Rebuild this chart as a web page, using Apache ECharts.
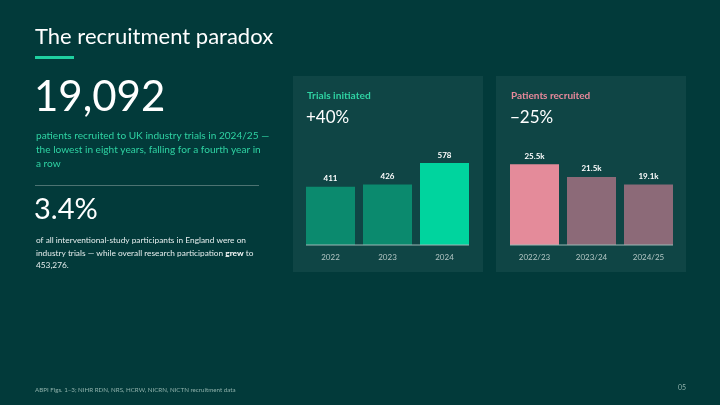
<!DOCTYPE html>
<html>
<head>
<meta charset="utf-8">
<script src="https://cdn.jsdelivr.net/npm/echarts@6/dist/echarts.min.js"></script>
<style>
html,body{margin:0;padding:0;background:#023a3a;}
#main{width:720px;height:405px;}
</style>
</head>
<body>
<div id="main"></div>
<script>
// data
var trialYears = ['2022', '2023', '2024'];
var trialsInitiated = [411, 426, 578];
var recruitYears = ['2022/23', '2023/24', '2024/25'];
var patientsRecruited = [25.5, 21.5, 19.1]; // thousands

var trialColors = ['#0b8a6e', '#0b8a6e', '#00d49e'];
var recruitColors = ['#e48b9a', '#8c6a78', '#8c6a78'];

var FONT = 'Lato, "Noto Sans", sans-serif';
var chart = echarts.init(document.getElementById('main'));

function txt(x, y, text, size, color, extra) {
	var s = {
		text: text,
		fill: color,
		font: (extra && extra.weight ? extra.weight + ' ' : '') + size + 'px ' + FONT,
		verticalAlign: 'middle',
		align: (extra && extra.align) || 'left'
	};
	if (extra && extra.rich) s.rich = extra.rich;
	return { type: 'text', x: x, y: y, style: s, z: 10 };
}

function barData(vals, colors) {
	return vals.map(function (v, i) {
		return { value: v, itemStyle: { color: colors[i] } };
	});
}

var axisCommon = {
	type: 'category',
	axisLine: { show: false },
	axisTick: { show: false },
	axisLabel: { color: '#b3c6c4', fontSize: 8, fontFamily: FONT, margin: 8 }
};

var option = {
	backgroundColor: '#023a3a',
	animation: false,
	grid: [
		{ left: 302, top: 150, width: 171, height: 95 },
		{ left: 506, top: 150, width: 171, height: 95 }
	],
	xAxis: [
		Object.assign({ gridIndex: 0, data: trialYears }, axisCommon),
		Object.assign({ gridIndex: 1, data: recruitYears }, axisCommon)
	],
	yAxis: [
		{ gridIndex: 0, type: 'value', min: 0, max: 670, show: false, splitLine: { show: false } },
		{ gridIndex: 1, type: 'value', min: 0, max: 30, show: false, splitLine: { show: false } }
	],
	series: [
		{
			type: 'bar', xAxisIndex: 0, yAxisIndex: 0, barWidth: 49,
			data: barData(trialsInitiated, trialColors),
			label: { show: true, position: 'top', distance: 4, color: '#ffffff', fontSize: 8, fontWeight: 'bold', fontFamily: FONT }
		},
		{
			type: 'bar', xAxisIndex: 1, yAxisIndex: 1, barWidth: 49,
			data: barData(patientsRecruited, recruitColors),
			label: {
				show: true, position: 'top', distance: 4, color: '#ffffff', fontSize: 8, fontWeight: 'bold', fontFamily: FONT,
				formatter: function (p) { return p.value.toFixed(1) + 'k'; }
			}
		}
	],
	graphic: [
		// panels
		{ type: 'rect', shape: { x: 293, y: 76, width: 190, height: 196 }, style: { fill: '#0f4545' }, z: 0 },
		{ type: 'rect', shape: { x: 496, y: 76, width: 190, height: 196 }, style: { fill: '#0f4545' }, z: 0 },
		// baselines
		{ type: 'line', shape: { x1: 306, y1: 245, x2: 469, y2: 245 }, style: { stroke: '#9db8b6', lineWidth: 1 }, z: 10 },
		{ type: 'line', shape: { x1: 510, y1: 245, x2: 673, y2: 245 }, style: { stroke: '#9db8b6', lineWidth: 1 }, z: 10 },
		// heading
		txt(35, 37, 'The recruitment paradox', 22, '#ffffff'),
		{ type: 'rect', shape: { x: 35, y: 56, width: 39, height: 3 }, style: { fill: '#1fd0a0' }, z: 10 },
		txt(34, 97, '19,092', 42, '#ffffff'),
		txt(36, 136, 'patients recruited to UK industry trials in 2024/25 —', 10.1, '#2fd3a3'),
		txt(36, 150, 'the lowest in eight years, falling for a fourth year in', 10.1, '#2fd3a3'),
		txt(36, 164, 'a row', 10.1, '#2fd3a3'),
		{ type: 'line', shape: { x1: 35, y1: 185.5, x2: 259, y2: 185.5 }, style: { stroke: '#4d7372', lineWidth: 1 }, z: 10 },
		txt(34, 210, '3.4%', 29, '#ffffff'),
		txt(36, 240, 'of all interventional-study participants in England were on', 8.3, '#e6eeee'),
		txt(36, 253, 'industry trials — while overall research participation {b|grew} to', 8.3, '#e6eeee',
			{ rich: { b: { fontWeight: 'bold', fontSize: 8.3, fontFamily: FONT, fill: '#ffffff' } } }),
		txt(36, 265, '453,276.', 8.3, '#e6eeee'),
		// panel headers
		txt(307, 96, 'Trials initiated', 10.2, '#2fd3a3', { weight: 'bold' }),
		txt(306, 118, '+40%', 17, '#ffffff'),
		txt(511, 96, 'Patients recruited', 10, '#e8899b', { weight: 'bold' }),
		txt(510, 118, '\u221225%', 17, '#ffffff'),
		// footer
		txt(35, 390, 'ABPI Figs. 1\u20133; NIHR RDN, NRS, HCRW, NICRN, NICTN recruitment data', 6.2, '#8fb1ab'),
		txt(686, 388, '05', 7, '#8fb1ab', { align: 'right' })
	]
};

chart.setOption(option);
</script>
</body>
</html>
